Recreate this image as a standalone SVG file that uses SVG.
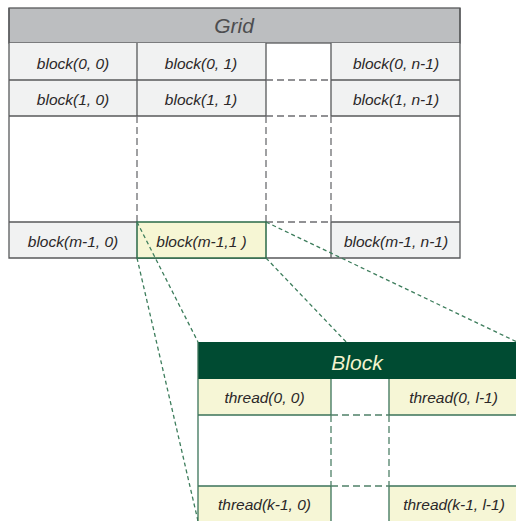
<svg xmlns="http://www.w3.org/2000/svg" width="516" height="521" viewBox="0 0 516 521">
<style>
text{font-family:"Liberation Sans","Open Sans",sans-serif;font-style:italic;text-anchor:middle}
.cell{font-size:15.5px;fill:#2b2829}
.gcell{fill:#f1f2f2}
.ycell{fill:#f6f6d6}
.gl{stroke:#58595b;stroke-width:1.3;fill:none}
.gd{stroke:#6d6e71;stroke-width:1.3;fill:none;stroke-dasharray:7 4}
.bl{stroke:#3b7359;stroke-width:1.3;fill:none}
.bd{stroke:#4f8068;stroke-width:1.3;fill:none;stroke-dasharray:7 4}
.conn{stroke:#3d7d5c;stroke-width:1.3;fill:none;stroke-dasharray:4 3}
</style>
<rect width="516" height="521" fill="#fff"/>
<g id="grid">
<rect x="9" y="8" width="451" height="250" fill="#fff"/>
<rect x="9" y="8" width="451" height="35" fill="#bcbec0" stroke="#58595b" stroke-width="1.3"/>
<text x="234" y="33" font-size="21" fill="#4d4d4f">Grid</text>
<rect class="gcell" x="9" y="43" width="128" height="73"/>
<rect class="gcell" x="137" y="43" width="129" height="73"/>
<rect class="gcell" x="331" y="43" width="129" height="73"/>
<rect class="gcell" x="9" y="222" width="128" height="36"/>
<rect class="gcell" x="331" y="222" width="129" height="36"/>
<path class="gl" d="M9 80H266M331 80H460M9 116H266M331 116H460M9 222H137M331 222H460M137 43V116M266 43V116M331 43V116M331 222V258M9 8V258H460V8"/>
<path class="gd" d="M266 80H331M266 116H331M266 222H331M137 116V222M266 116V222M331 116V222"/>
</g>
<g id="block-0-0"><text class="cell" x="73" y="69">block(0, 0)</text></g>
<g id="block-0-1"><text class="cell" x="201" y="69">block(0, 1)</text></g>
<g id="block-0-n1"><text class="cell" x="396" y="69">block(0, n-1)</text></g>
<g id="block-1-0"><text class="cell" x="73" y="105">block(1, 0)</text></g>
<g id="block-1-1"><text class="cell" x="201" y="105">block(1, 1)</text></g>
<g id="block-1-n1"><text class="cell" x="396" y="105">block(1, n-1)</text></g>
<g id="block-m1-0"><text class="cell" x="73" y="246.5">block(m-1, 0)</text></g>
<g id="block-m1-n1"><text class="cell" x="396" y="246.5">block(m-1, n-1)</text></g>
<g id="block-m1-1">
<rect x="137" y="222" width="129" height="36" fill="#f6f6d4" stroke="#2a6a47" stroke-width="1.5"/>
<text class="cell" x="201.5" y="246.5">block(m-1,1 )</text>
</g>
<g id="connectors">
<path class="conn" d="M137 222L198 342M137 258L198 521M266 222L517 342M266 258L517 521"/>
</g>
<g id="block">
<rect x="198" y="342" width="320" height="180" fill="#fff"/>
<rect x="198" y="342" width="320" height="37" fill="#004b32"/>
<text x="357" y="370" font-size="21" fill="#f3f3cf">Block</text>
<rect class="ycell" x="198" y="379" width="133" height="36"/>
<rect class="ycell" x="389" y="379" width="129" height="36"/>
<rect class="ycell" x="198" y="486" width="133" height="36"/>
<rect class="ycell" x="389" y="486" width="129" height="36"/>
<path class="bl" d="M198 342V522M198 415H331M389 415H518M198 486H331M389 486H518M331 379V415M389 379V415M331 486V522M389 486V522"/>
<path class="bd" d="M331 415H389M331 486H389M331 415V486M389 415V486"/>
</g>
<g id="thread-0-0"><text class="cell" x="264.5" y="403">thread(0, 0)</text></g>
<g id="thread-0-l1"><text class="cell" x="453.5" y="403">thread(0, l-1)</text></g>
<g id="thread-k1-0"><text class="cell" x="264.5" y="510">thread(k-1, 0)</text></g>
<g id="thread-k1-l1"><text class="cell" x="454" y="510">thread(k-1, l-1)</text></g>
</svg>
